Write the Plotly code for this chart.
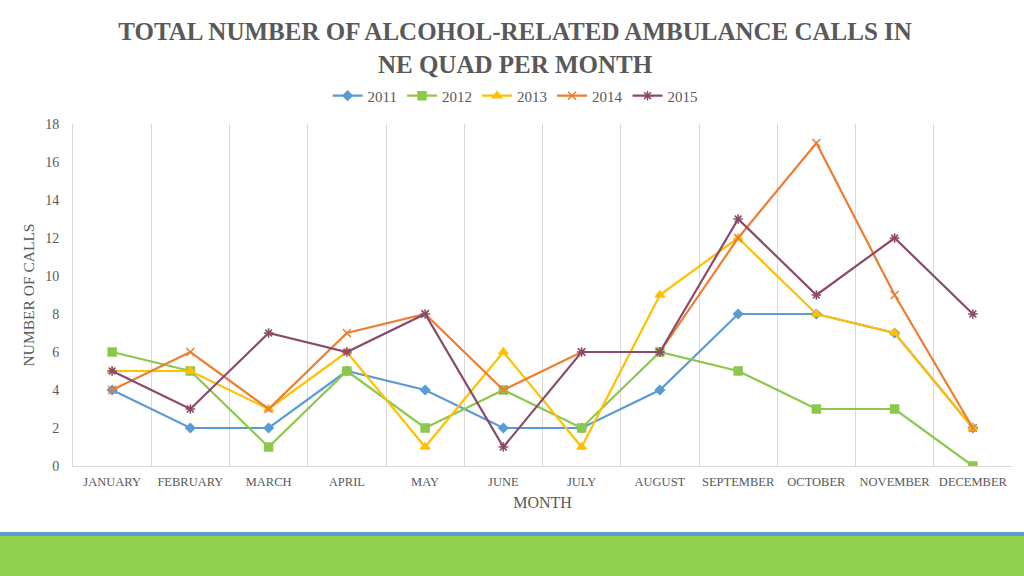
import plotly.graph_objects as go

months = ["JANUARY", "FEBRUARY", "MARCH", "APRIL", "MAY", "JUNE", "JULY",
          "AUGUST", "SEPTEMBER", "OCTOBER", "NOVEMBER", "DECEMBER"]
y2011 = [4, 2, 2, 5, 4, 2, 2, 4, 8, 8, 7, 2]
y2012 = [6, 5, 1, 5, 2, 4, 2, 6, 5, 3, 3, 0]
y2013 = [5, 5, 3, 6, 1, 6, 1, 9, 12, 8, 7, 2]
y2014 = [4, 6, 3, 7, 8, 4, 6, 6, 12, 17, 9, 2]
y2015 = [5, 3, 7, 6, 8, 1, 6, 6, 13, 9, 12, 8]
series_names = ["2011", "2012", "2013", "2014", "2015"]
series_values = [y2011, y2012, y2013, y2014, y2015]
y_ticks = [0, 2, 4, 6, 8, 10, 12, 14, 16, 18]

colors = ["#5B9BD5", "#8CC84B", "#FFC000", "#ED7D31", "#8B4A6B"]
symbols = ["diamond", "square", "triangle-up", "x-thin", "asterisk"]
sizes = [7, 8, 8, 8, 8]

FONT = "Liberation Serif"
GRAY = "#595959"
fig = go.Figure()
for name, vals, c, s, sz in zip(series_names, series_values, colors, symbols, sizes):
    fig.add_trace(go.Scatter(
        x=months, y=vals, name=name, mode="lines+markers",
        line=dict(color=c, width=2.2),
        marker=dict(symbol=s, size=sz, color=c, line=dict(color=c, width=1.5)),
    ))

fig.update_layout(
    width=1024, height=576,
    paper_bgcolor="white", plot_bgcolor="white",
    margin=dict(l=73, r=12, t=124, b=110, autoexpand=False),
    title=dict(
        text="TOTAL NUMBER OF ALCOHOL-RELATED AMBULANCE CALLS IN<br>NE QUAD PER MONTH",
        x=0.503, xanchor="center", y=0.93, yanchor="top",
        font=dict(family=FONT, size=25, color=GRAY, weight="bold"),
    ),
    legend=dict(
        orientation="h", xref="container", x=0.503, xanchor="center", y=1.082, yanchor="middle",
        font=dict(family=FONT, size=15, color=GRAY),
        itemwidth=30, tracegroupgap=0,
    ),
    xaxis=dict(
        type="category", tickson="boundaries", showgrid=True, gridcolor="#D9D9D9",
        gridwidth=1, showline=True, linecolor="#D9D9D9", ticks="",
        tickangle=0, automargin=False,
        tickfont=dict(family=FONT, size=12.5, color=GRAY),
        ticklabelstandoff=4,
        title=dict(text="MONTH", font=dict(family=FONT, size=16, color=GRAY), standoff=8),
        range=[-0.5, 11.5],
    ),
    yaxis=dict(
        range=[0, 18], tickvals=y_ticks, showgrid=False, zeroline=False,
        showline=True, linecolor="#D9D9D9", ticks="", automargin=False,
        tickfont=dict(family=FONT, size=14, color=GRAY),
        ticklabelstandoff=10,
        title=dict(text="NUMBER OF CALLS", font=dict(family=FONT, size=15.5, color=GRAY), standoff=6),
    ),
    shapes=[
        dict(type="rect", xref="paper", yref="paper", x0=-0.1, x1=1.1,
             y0=-0.2047, y1=-0.193, fillcolor="#5B9BD5", line=dict(width=0), layer="above"),
        dict(type="rect", xref="paper", yref="paper", x0=-0.1, x1=1.1,
             y0=-0.34, y1=-0.2047, fillcolor="#92D050", line=dict(width=0), layer="above"),
    ],
)

fig.write_html("out.html", config={"displayModeBar": False},
               post_script="document.body.style.margin='0';")
